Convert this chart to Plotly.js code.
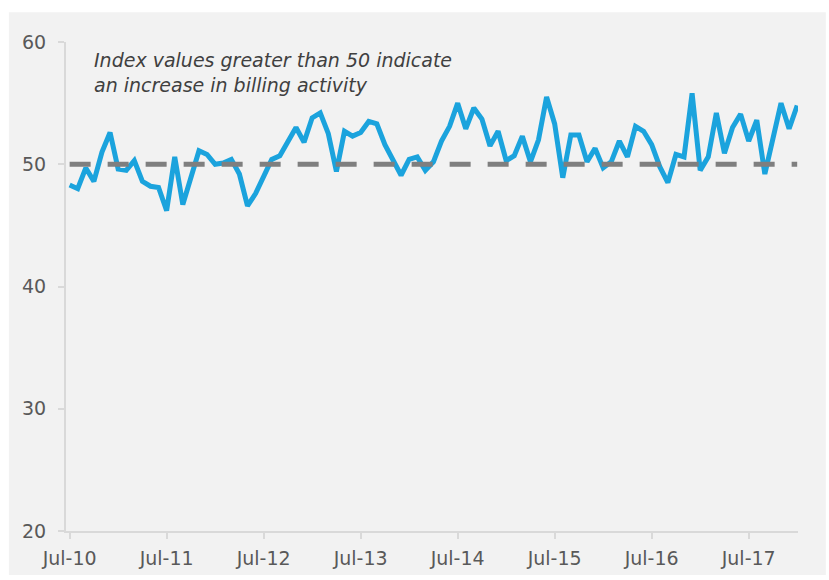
<!DOCTYPE html>
<html>
<head>
<meta charset="utf-8">
<script src="https://cdn.plot.ly/plotly-3.0.1.min.js"></script>
<style>html,body{margin:0;padding:0;background:#fff;}#chart{width:829px;height:580px;}</style>
</head>
<body>
<div id="chart"></div>
<script>
// Monthly index, Jul-2010 .. Jan-2018
const indexValues = [
  48.3, 48.0, 49.7, 48.6, 51.0, 52.6, 49.6, 49.5, 50.3, 48.6, 48.2, 48.1,
  46.2, 50.6, 46.7, 48.9, 51.1, 50.8, 50.0, 50.1, 50.4, 49.2, 46.6, 47.6,
  49.1, 50.4, 50.7, 51.9, 53.0, 51.8, 53.8, 54.2, 52.5, 49.4, 52.7, 52.3,
  52.6, 53.5, 53.3, 51.6, 50.4, 49.1, 50.4, 50.6, 49.5, 50.2, 51.9, 53.1,
  55.0, 52.9, 54.6, 53.7, 51.5, 52.7, 50.3, 50.7, 52.3, 50.2, 52.0, 55.5,
  53.3, 48.9, 52.4, 52.4, 50.2, 51.3, 49.7, 50.2, 51.9, 50.6, 53.1, 52.7,
  51.6, 49.8, 48.5, 50.8, 50.6, 55.8, 49.5, 50.6, 54.2, 50.9, 53.0, 54.1,
  51.9, 53.6, 49.2, 52.0, 55.0, 52.9, 54.8
];
const threshold = 50;
const tickLabels = ["Jul-10","Jul-11","Jul-12","Jul-13","Jul-14","Jul-15","Jul-16","Jul-17"];
const yTicks = [20, 30, 40, 50, 60];
const noteText = "Index values greater than 50 indicate<br>an increase in billing activity";

const monthIdx = indexValues.map((_, i) => i);
const tickIdx = tickLabels.map((_, k) => k * 12);
const lastIdx = monthIdx[monthIdx.length - 1];

const traces = [
  {
    x: monthIdx, y: indexValues, type: 'scatter', mode: 'lines',
    line: {color: '#1ba3dd', width: 5, shape: 'linear'},
    hoverinfo: 'skip'
  },
  {
    x: [0, lastIdx], y: [threshold, threshold], type: 'scatter', mode: 'lines',
    line: {color: '#7f7f7f', width: 5, dash: '21px,17px'},
    hoverinfo: 'skip'
  }
];

const layout = {
  width: 829, height: 580,
  margin: {l: 66, r: 31, t: 42, b: 49},
  paper_bgcolor: '#ffffff',
  plot_bgcolor: 'rgba(0,0,0,0)',
  showlegend: false,
  font: {family: 'DejaVu Sans', size: 19, color: '#595959'},
  xaxis: {
    range: [-0.45, 90.1],
    tickmode: 'array', tickvals: tickIdx, ticktext: tickLabels,
    showgrid: false, zeroline: false,
    showline: true, linecolor: '#d9d9d9', linewidth: 2,
    ticks: 'outside', ticklen: 6, tickcolor: '#d9d9d9', tickwidth: 2,
    ticklabelstandoff: 3,
    tickfont: {family: 'DejaVu Sans', size: 19, color: '#595959'}
  },
  yaxis: {
    range: [20, 60],
    tickmode: 'array', tickvals: yTicks,
    showgrid: false, zeroline: false,
    showline: true, linecolor: '#d9d9d9', linewidth: 2,
    ticks: 'outside', ticklen: 6, tickcolor: '#d9d9d9', tickwidth: 2,
    ticklabelstandoff: 8,
    tickfont: {family: 'DejaVu Sans', size: 19, color: '#595959'}
  },
  shapes: [{
    type: 'rect', xref: 'paper', yref: 'paper', layer: 'below',
    x0: -0.078, x1: 1.038, y0: -0.09, y1: 1.061,
    fillcolor: '#f2f2f2', line: {width: 0}
  }],
  annotations: [{
    xref: 'paper', yref: 'paper', x: 0.036, y: 0.989,
    xanchor: 'left', yanchor: 'top', align: 'left', showarrow: false,
    text: noteText,
    font: {family: 'DejaVu Sans', size: 19, color: '#404040', style: 'italic'}
  }]
};

Plotly.newPlot('chart', traces, layout, {staticPlot: true, displayModeBar: false});
</script>
</body>
</html>
